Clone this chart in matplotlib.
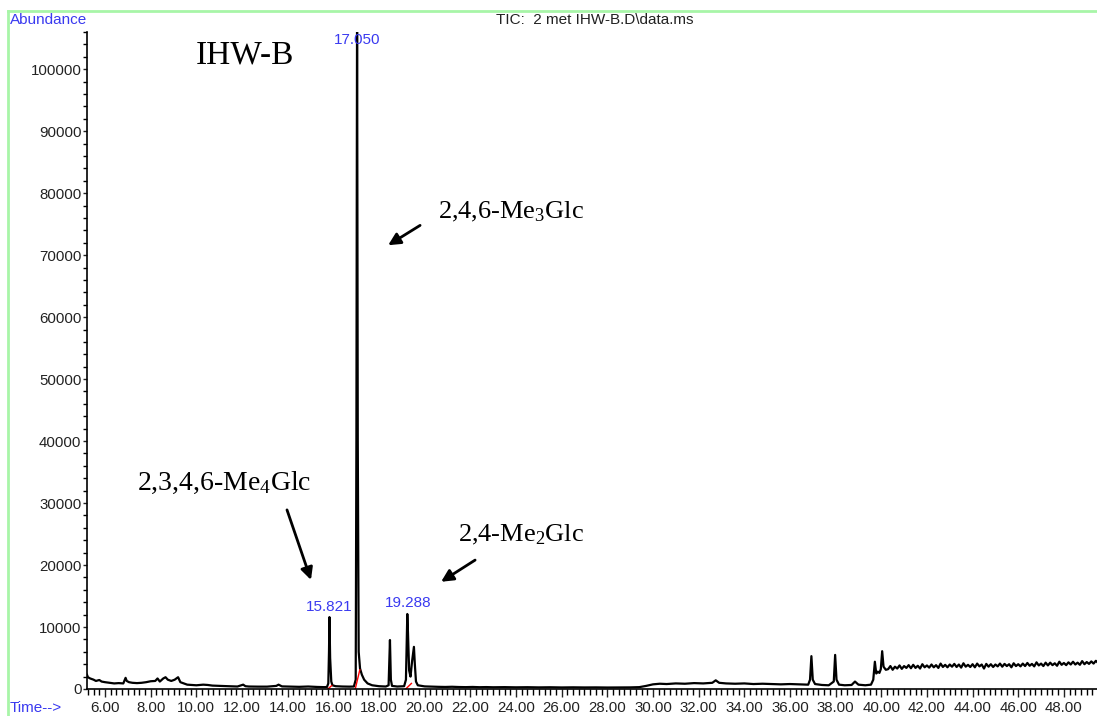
import numpy as np
import matplotlib.pyplot as plt
from matplotlib.lines import Line2D
from matplotlib.ticker import MultipleLocator

plt.rcParams['font.family'] = ['Liberation Sans', 'DejaVu Sans']
plt.rcParams['mathtext.fontset'] = 'custom'
plt.rcParams['mathtext.rm'] = 'Liberation Serif'
plt.rcParams['mathtext.it'] = 'Liberation Serif:italic'

# TIC trace (time in min, abundance)
time_front = [5.21, 5.25, 5.35, 5.5, 5.6, 5.75, 5.85, 6.0, 6.2, 6.4, 6.6, 6.8, 6.9, 6.95,
              7.05, 7.2, 7.4, 7.6, 7.8, 8.0, 8.2, 8.3, 8.4, 8.55, 8.65, 8.75, 8.9, 9.05,
              9.2, 9.3, 9.45, 9.6, 9.8, 10.0, 10.3, 10.5, 10.7, 11.0, 11.4, 11.8, 12.05,
              12.15, 12.3, 12.7, 13.1, 13.5, 13.6, 13.75, 14.1, 14.5, 14.9, 15.3, 15.6, 15.72,
              15.78, 15.81, 15.83, 15.86, 15.91, 15.96, 16.1, 16.4, 16.7, 16.9, 16.98, 17.01,
              17.04, 17.07, 17.11, 17.17, 17.25, 17.35, 17.5, 17.7, 18.0, 18.3, 18.42, 18.48,
              18.52, 18.57, 18.8, 19.1, 19.18, 19.22, 19.24, 19.27, 19.32, 19.38, 19.45,
              19.53, 19.57, 19.62, 19.7, 20.0, 20.3, 20.6, 20.9, 21.2, 21.5, 21.8, 22.1,
              22.4, 22.7, 23.0, 23.5, 24.0, 24.5, 25.0, 25.5, 26.0, 26.5, 27.0, 27.5, 28.0,
              28.5, 29.0, 29.4, 29.7, 30.0, 30.3, 30.6, 31.0, 31.4, 31.8, 32.2, 32.6, 32.75,
              32.9, 33.2, 33.6, 34.0, 34.4, 34.8, 35.2, 35.6, 36.0, 36.4, 36.8, 36.88, 36.94,
              37.0, 37.1, 37.4, 37.7, 37.92, 37.98, 38.04, 38.15, 38.4, 38.7, 38.85, 39.0,
              39.3, 39.55, 39.65, 39.72, 39.78, 39.85, 39.92, 39.98, 40.04, 40.1, 40.2]
abund_front = [2300, 1900, 1700, 1500, 1300, 1450, 1200, 1100, 1000, 900, 950, 900, 1800, 1300,
               1100, 1000, 950, 1000, 1100, 1250, 1300, 1700, 1200, 1700, 1900, 1500, 1300, 1500,
               1900, 1100, 900, 700, 650, 600, 700, 650, 550, 500, 450, 400, 700,
               450, 400, 380, 380, 500, 700, 420, 380, 350, 400, 330, 300, 320,
               900, 6000, 11600, 5000, 1200, 600, 450, 400, 380, 400, 1500, 40000,
               112000, 40000, 6000, 3300, 2300, 1500, 900, 600, 450, 400, 600, 7900,
               1500, 500, 400, 450, 1500, 9000, 12100, 9000, 3000, 2000, 4500,
               6800, 4000, 1200, 600, 420, 380, 350, 330, 360, 320, 300, 330,
               290, 310, 280, 300, 270, 290, 260, 280, 250, 270, 250, 260, 240,
               250, 260, 300, 500, 750, 850, 800, 900, 850, 950, 900, 1000, 1400,
               1000, 900, 850, 900, 800, 850, 800, 750, 800, 750, 700, 1500, 5300,
               1500, 800, 650, 600, 1200, 5500, 1500, 700, 600, 650, 1200, 700,
               600, 700, 1500, 4400, 2500, 2800, 2600, 3200, 6100, 3600, 3100]

# noisy plateau after 40 min, sampled every 0.1 min
tail_start = 40.3
tail_step = 0.1
abund_tail = [3200, 3700, 3100, 3600, 3300, 3800, 3250, 3700, 3400, 3850,
              3350, 3900, 3400, 3750, 3300, 4000, 3500, 3800, 3450, 3950,
              3500, 3850, 3400, 4100, 3550, 3900, 3500, 3950, 3600, 4050,
              3550, 3950, 3450, 4150, 3600, 3900, 3550, 4000, 3500, 4100,
              3650, 3950, 3300, 4050, 3600, 4000, 3550, 3950, 3650, 4100,
              3600, 4050, 3700, 4000, 3500, 4150, 3700, 4000, 3650, 4100,
              3700, 4200, 3750, 4050, 3650, 4300, 3800, 4100, 3700, 4250,
              3800, 4250, 3850, 4150, 3750, 4400, 3900, 4200, 3850, 4300,
              3950, 4400, 3950, 4250, 3900, 4500, 4000, 4350, 4050, 4450,
              4100, 4550, 4200]

# integration baselines (red)
base_t = [[15.76, 15.93], [16.96, 17.16], [19.17, 19.42]]
base_y = [[0, 550], [0, 3100], [0, 900]]

# peak labels
peak_labels = ['15.821', '17.050', '19.288']
peak_label_t = [15.83, 17.04, 19.27]
peak_label_y = [13300, 104700, 13800]

time_tail = tail_start + tail_step * np.arange(len(abund_tail))
t = np.concatenate([time_front, time_tail])
y = np.concatenate([abund_front, abund_tail])

fig = plt.figure(figsize=(10.97, 7.16), dpi=100)
ax = fig.add_axes([87 / 1097, 1 - 689 / 716, 1 - 87 / 1097, (689 - 32) / 716])

ax.plot(t, y, color='black', lw=1.6)
for bt, by in zip(base_t, base_y):
    ax.plot(bt, by, color='red', lw=1.0)

ax.set_xlim(5.21, 49.45)
ax.set_ylim(0, 106000)
for s in ['top', 'right']:
    ax.spines[s].set_visible(False)
for s in ['left', 'bottom']:
    ax.spines[s].set_linewidth(1.2)

ax.xaxis.set_major_locator(MultipleLocator(2))
ax.xaxis.set_minor_locator(MultipleLocator(0.25))
ax.yaxis.set_major_locator(MultipleLocator(10000))
ax.yaxis.set_minor_locator(MultipleLocator(2000))
ax.xaxis.set_major_formatter(lambda v, p: '%.2f' % v)
ax.yaxis.set_major_formatter(lambda v, p: '%d' % v)
ax.tick_params(axis='both', which='major', labelsize=10.8, colors='#222222', width=1.0)
ax.tick_params(axis='x', which='major', length=6, pad=3)
ax.tick_params(axis='x', which='minor', length=4, width=1.0)
ax.tick_params(axis='y', which='major', length=3, pad=1)
ax.tick_params(axis='y', which='minor', length=3, width=1.0)

blue = '#3a3af0'
fig.text(10 / 1097, 1 - 20 / 716, 'Abundance', color=blue, fontsize=11, va='center')
fig.text(10 / 1097, 1 - 708 / 716, 'Time-->', color=blue, fontsize=11, va='center')
fig.text(595 / 1097, 1 - 20 / 716, 'TIC:  2 met IHW-B.D\\data.ms', color='#222222',
         fontsize=11, va='center', ha='center')

for lab, lt, ly in zip(peak_labels, peak_label_t, peak_label_y):
    ax.text(lt, ly, lab, color=blue, fontsize=11, ha='center', va='center', clip_on=False)

serif = ['Liberation Serif', 'DejaVu Serif']
ax.text(9.99, 102300, 'IHW-B', family=serif, fontsize=24, va='center')
ax.text(20.59, 77000, '2,4,6-Me$_3$Glc', family=serif, fontsize=19, va='center')
ax.text(7.40, 33200, '2,3,4,6-Me$_4$Glc', family=serif, fontsize=20, va='center')
ax.text(21.46, 24900, '2,4-Me$_2$Glc', family=serif, fontsize=19, va='center')

arrow = dict(arrowstyle='-|>', color='black', lw=2, mutation_scale=18,
             shrinkA=0, shrinkB=0)
ax.annotate('', xy=(18.40, 71600), xytext=(19.80, 74800), arrowprops=arrow)
ax.annotate('', xy=(15.02, 17600), xytext=(13.97, 28900), arrowprops=arrow)
ax.annotate('', xy=(20.72, 17300), xytext=(22.21, 20800), arrowprops=arrow)

# green page frame
gx = 8 / 1097
gy = 1 - 11 / 716
fig.add_artist(Line2D([gx, gx], [0, gy], color='#a8f5a8', lw=2))
fig.add_artist(Line2D([gx, 1], [gy, gy], color='#a8f5a8', lw=2))

fig.savefig('out.png', dpi=100)
